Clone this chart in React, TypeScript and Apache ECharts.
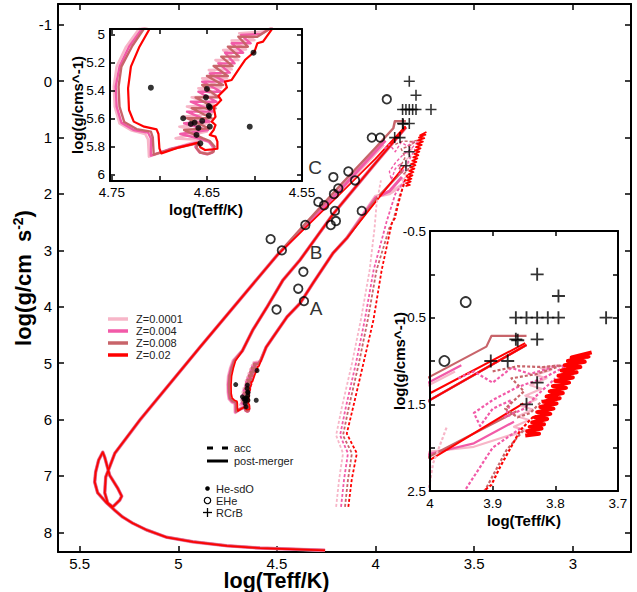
import React, { useEffect, useRef } from 'react';
import * as echarts from 'echarts';

const FONT = '"Liberation Sans", Arial, Helvetica, sans-serif';

// ---- labels / ticks ----
const zLabels = ['Z=0.0001', 'Z=0.004', 'Z=0.008', 'Z=0.02'];
const zColors = ['#f7b6c8', '#f25aa8', '#c8646a', '#ff0000'];
const mainXTicks = [5.5, 5, 4.5, 4, 3.5, 3];
const mainYTicks = [-1, 0, 1, 2, 3, 4, 5, 6, 7, 8];
const inset1XTicks = [4.55, 4.6, 4.65, 4.7, 4.75];
const inset1XLabels = [4.55, 4.65, 4.75];
const inset1YTicks = [5, 5.2, 5.4, 5.6, 5.8, 6];
const inset2XTicks = [3.7, 3.8, 3.9, 4];
const inset2YTicks = [-0.5, 0, 0.5, 1, 1.5, 2, 2.5];
const inset2YLabels = [-0.5, 0.5, 1.5, 2.5];

// ---- post-merger tracks (log Teff, log g) ----
// lower part of the hot loop (all Z overlap)
const loopLower = [[4.50,3.09],[4.891,4.72],[5.195,6.01],[5.322,6.60],[5.368,7.02],[5.373,7.30],[5.358,7.48],[5.332,7.55],[5.297,7.43],[5.287,7.36],[5.307,7.22],[5.348,6.99],[5.373,6.67],[5.383,6.58],[5.404,6.72],[5.419,6.93],[5.424,7.11],[5.409,7.30],[5.363,7.48],[5.322,7.61],[5.282,7.73],[5.231,7.84],[5.160,7.96],[5.058,8.09],[4.926,8.17],[4.754,8.24],[4.586,8.28],[4.256,8.32]];
const bigTop_0001 = [[3.96,1.12],[4.0,1.27],[4.18,1.95]];
const bigTop_004 = [[3.95,1.05],[4.0,1.24],[4.18,1.93]];
const bigTop_008 = [[3.846,0.711],[3.902,0.711],[3.910,0.834],[4.0,1.18],[4.18,1.85],[4.38,2.62]];
const bigTop_02 = [[3.848,0.795],[4.0,1.372],[4.18,2.0]];

// sdO tongue: right edge (A) and left edge
const aTop_0001 = [[3.862,1.83],[3.93,1.99],[4.0,2.045]];
const aTop_004 = [[3.866,1.70],[3.93,1.95],[4.0,2.07]];
const aTop_008 = [[3.862,1.58],[4.0,2.10]];
const aTop_02 = [[3.851,1.49],[4.0,2.14]];
const tongueRightUpper = [[4.145,2.78],[4.216,3.05],[4.317,3.58],[4.383,3.94],[4.449,4.18],[4.520,4.54],[4.555,4.72]];
const tongueLeftUpper = [[4.675,4.78],[4.622,4.41],[4.551,4.01],[4.470,3.53],[4.383,3.17],[4.216,2.36],[4.0,1.45],[3.846,0.815]];

// He-flash region near the sdO (detail of the upper-left inset)
const insetTrack_0001 = [[4.583,4.957],[4.591,4.981],[4.616,4.993],[4.600,5.041],[4.624,5.045],[4.609,5.107],[4.633,5.112],[4.617,5.183],[4.641,5.183],[4.624,5.249],[4.648,5.254],[4.629,5.314],[4.655,5.314],[4.635,5.378],[4.659,5.385],[4.638,5.439],[4.666,5.449],[4.641,5.503],[4.671,5.515],[4.645,5.568],[4.676,5.587],[4.648,5.634],[4.679,5.658],[4.650,5.693],[4.683,5.741],[4.655,5.753],[4.648,5.765],[4.644,5.800],[4.645,5.836],[4.650,5.848],[4.657,5.836],[4.662,5.800],[4.660,5.765],[4.666,5.772],[4.690,5.824],[4.711,5.871],[4.712,5.748],[4.715,5.710],[4.729,5.686],[4.742,5.634],[4.747,5.515],[4.748,5.373],[4.745,5.230],[4.735,5.088],[4.721,4.957]];
const insetTrack_004 = [[4.583,4.957],[4.593,4.998],[4.614,5.005],[4.604,5.064],[4.624,5.064],[4.612,5.131],[4.631,5.131],[4.621,5.207],[4.638,5.207],[4.626,5.273],[4.647,5.278],[4.631,5.337],[4.655,5.337],[4.635,5.409],[4.659,5.409],[4.640,5.480],[4.667,5.480],[4.643,5.551],[4.671,5.551],[4.647,5.622],[4.674,5.634],[4.649,5.682],[4.678,5.710],[4.655,5.748],[4.648,5.765],[4.643,5.805],[4.644,5.843],[4.650,5.855],[4.658,5.840],[4.662,5.805],[4.661,5.772],[4.690,5.819],[4.709,5.864],[4.709,5.741],[4.712,5.700],[4.727,5.682],[4.740,5.629],[4.745,5.515],[4.746,5.373],[4.742,5.230],[4.732,5.088],[4.718,4.957]];
const insetTrack_008 = [[4.583,4.957],[4.597,5.017],[4.617,5.017],[4.607,5.088],[4.628,5.088],[4.616,5.159],[4.635,5.159],[4.623,5.226],[4.643,5.226],[4.628,5.297],[4.650,5.297],[4.633,5.361],[4.655,5.361],[4.638,5.449],[4.662,5.449],[4.641,5.527],[4.666,5.527],[4.645,5.598],[4.671,5.598],[4.648,5.670],[4.674,5.682],[4.654,5.741],[4.647,5.760],[4.642,5.800],[4.643,5.836],[4.649,5.853],[4.657,5.843],[4.661,5.810],[4.660,5.777],[4.688,5.819],[4.706,5.857],[4.707,5.734],[4.709,5.693],[4.724,5.675],[4.737,5.625],[4.742,5.515],[4.743,5.373],[4.740,5.230],[4.729,5.088],[4.716,4.957]];
const insetTrack_02 = [[4.581,4.957],[4.591,5.052],[4.597,5.064],[4.600,5.124],[4.610,5.183],[4.617,5.254],[4.624,5.325],[4.631,5.337],[4.629,5.378],[4.638,5.439],[4.635,5.468],[4.640,5.503],[4.643,5.515],[4.641,5.587],[4.645,5.622],[4.641,5.646],[4.643,5.682],[4.647,5.717],[4.641,5.729],[4.639,5.765],[4.639,5.815],[4.644,5.819],[4.652,5.824],[4.657,5.805],[4.659,5.772],[4.679,5.805],[4.698,5.848],[4.700,5.812],[4.701,5.710],[4.703,5.677],[4.716,5.658],[4.727,5.622],[4.732,5.539],[4.733,5.385],[4.730,5.230],[4.721,5.088],[4.710,4.957]];

// giant-branch loops near the RCrB region
const wedge_02 = [[3.848,1.86],[3.826,1.84],[3.845,1.81],[3.822,1.78],[3.841,1.76],[3.818,1.73],[3.837,1.71],[3.813,1.67],[3.833,1.65],[3.808,1.61],[3.829,1.59],[3.803,1.55],[3.824,1.53],[3.798,1.49],[3.819,1.47],[3.793,1.43],[3.814,1.41],[3.788,1.37],[3.809,1.35],[3.783,1.31],[3.804,1.29],[3.778,1.25],[3.800,1.23],[3.772,1.19],[3.795,1.17],[3.766,1.13],[3.790,1.11],[3.760,1.07],[3.785,1.05],[3.753,1.01],[3.780,1.00],[3.747,0.95],[3.774,0.96],[3.742,0.90]];
const wedge_0001 = [[3.870,1.86],[3.846,1.80],[3.866,1.76],[3.842,1.68],[3.860,1.64],[3.836,1.56],[3.854,1.52],[3.830,1.44],[3.848,1.40],[3.822,1.32],[3.840,1.28],[3.814,1.20],[3.832,1.16],[3.806,1.10],[3.824,1.08],[3.796,1.05]];
const cloud_004 = [[3.955,1.20],[3.930,1.12],[3.900,1.25],[3.870,1.08],[3.840,1.15],[3.800,1.06],[3.780,1.05],[3.820,1.20],[3.860,1.30],[3.900,1.45],[3.930,1.60],[3.920,1.75],[3.900,1.55],[3.870,1.45],[3.880,1.65],[3.850,1.55],[3.830,1.40],[3.800,1.20]];
const cloud_008 = [[3.900,1.12],[3.860,1.06],[3.820,1.07],[3.790,1.05],[3.830,1.15],[3.870,1.20],[3.850,1.35],[3.880,1.55],[3.860,1.65],[3.840,1.60],[3.820,1.45]];

// accretion tracks (dashed)
const acc_0001 = [[4.200,7.55],[4.185,7.07],[4.165,6.60],[4.200,6.28],[4.170,5.77],[4.120,5.01],[4.075,4.24],[4.030,3.35],[4.005,2.60],[3.995,2.18],[3.973,1.757]];
const acc_004 = [[4.175,7.55],[4.160,7.07],[4.140,6.60],[4.180,6.28],[4.150,5.77],[4.100,5.01],[4.055,4.24],[4.010,3.35],[3.960,2.70],[3.944,2.49],[3.900,2.00],[3.856,1.78]];
const acc_008 = [[4.155,7.55],[4.140,7.07],[4.120,6.60],[4.165,6.28],[4.135,5.77],[4.085,5.01],[4.040,4.24],[3.995,3.35],[3.930,2.60],[3.912,2.49],[3.878,2.03],[3.851,1.80]];
const acc_02 = [[4.138,7.55],[4.121,7.07],[4.095,6.60],[4.146,6.25],[4.113,5.77],[4.062,5.01],[4.011,4.24],[3.969,3.35],[3.918,2.52],[3.902,2.43],[3.888,2.22],[3.856,1.80],[3.835,1.64]];

// ---- observed stars ----
const heSdO = [[4.709,5.380],[4.650,5.389],[4.651,5.449],[4.648,5.511],[4.647,5.522],[4.648,5.579],[4.675,5.598],[4.667,5.639],[4.663,5.629],[4.655,5.617],[4.659,5.667],[4.647,5.658],[4.661,5.717],[4.657,5.777],[4.605,5.658],[4.601,5.131]];
const eHe = [[3.943,0.32],[4.019,1.00],[3.977,1.00],[4.138,1.60],[4.214,1.70],[4.104,1.76],[4.189,1.90],[4.211,2.00],[4.290,2.14],[4.261,2.20],[4.070,2.30],[4.206,2.30],[4.201,2.48],[4.227,2.55],[4.356,2.55],[4.532,2.80],[4.475,3.00],[4.366,3.38],[4.392,3.68],[4.363,3.90],[4.502,4.05]];
const rCrB = [[3.829,0.0],[3.795,0.25],[3.863,0.5],[3.846,0.5],[3.829,0.5],[3.812,0.5],[3.795,0.5],[3.719,0.5],[3.863,0.75],[3.860,0.76],[3.829,0.75],[3.903,1.0],[3.876,1.0],[3.829,1.25],[3.846,1.5]];

const zTracks = [
  { bigTop: bigTop_0001, aTop: aTop_0001, inset: insetTrack_0001, acc: acc_0001 },
  { bigTop: bigTop_004, aTop: aTop_004, inset: insetTrack_004, acc: acc_004 },
  { bigTop: bigTop_008, aTop: aTop_008, inset: insetTrack_008, acc: acc_008 },
  { bigTop: bigTop_02, aTop: aTop_02, inset: insetTrack_02, acc: acc_02 },
];

const CROSS = 'path://M-1,-7H1V-1H7V1H1V7H-1V1H-7V-1H-1Z';

function axis(o: any) {
  return {
    type: 'value',
    gridIndex: o.grid,
    position: o.position,
    min: o.min,
    max: o.max,
    inverse: true,
    z: o.z ?? 0,
    axisLine: { show: true, onZero: false, lineStyle: { color: '#000', width: 2 } },
    axisTick: { show: true, inside: true, length: o.tickLen ?? 6, customValues: o.ticks, lineStyle: { color: '#000', width: 1.5 } },
    axisLabel: o.labels
      ? { show: true, customValues: o.labels, color: '#000', fontSize: o.fontSize, fontFamily: FONT, margin: o.margin, lineHeight: o.labelLH }
      : { show: false },
    splitLine: { show: false },
    name: o.name,
    nameLocation: 'middle',
    nameGap: o.nameGap,
    nameMoveOverlap: false,
    nameTextStyle: o.nameStyle,
  };
}

function buildOption() {
  const series: any[] = [];
  const gridsCfg = [
    { xi: 0, yi: 0, z: 1, widths: [3.6, 3.0, 2.5, 1.7], accW: 1.8, extraW: 1.4, wedgeW: 1.8 },
    { xi: 2, yi: 2, z: 4, widths: [2.6, 2.4, 2.4, 2.2], accW: 2, extraW: 2, wedgeW: 2 },
    { xi: 4, yi: 4, z: 4, widths: [2.2, 2.2, 2.2, 2], accW: 2.2, extraW: 2.2, wedgeW: 4 },
  ];
  const ln = (data: any, color: string, width: number, g: any, dashed = false) => ({
    type: 'line', data, xAxisIndex: g.xi, yAxisIndex: g.yi, z: g.z,
    showSymbol: false, symbol: 'none', silent: true, clip: true,
    lineStyle: { color, width, type: dashed ? [3, 2] : 'solid', cap: 'butt', join: 'round' },
    emphasis: { disabled: true },
  });
  gridsCfg.forEach((g) => {
    zTracks.forEach((t, i) => {
      series.push(ln([...t.bigTop, ...loopLower], zColors[i], g.widths[i], g));
      series.push(ln([...t.aTop, ...tongueRightUpper, ...t.inset, ...tongueLeftUpper], zColors[i], g.widths[i], g));
    });
    series.push(ln(wedge_0001, zColors[0], g.extraW, g));
    series.push(ln(cloud_004, zColors[1], g.extraW, g, true));
    series.push(ln(cloud_008, zColors[2], g.extraW, g, true));
    series.push(ln(wedge_02, zColors[3], g.wedgeW, g));
    zTracks.forEach((t, i) => series.push(ln(t.acc, zColors[i], g.accW, g, true)));
  });
  const sc = (data: any, g: any, symbol: string, size: number, style: any) => ({
    type: 'scatter', data, xAxisIndex: g.xi, yAxisIndex: g.yi, z: g.z + 0.5, symbol, symbolSize: size,
    itemStyle: style, silent: true, clip: true, emphasis: { disabled: true },
  });
  const dot = { color: '#000' };
  const ring = { color: 'rgba(0,0,0,0)', borderColor: '#000', borderWidth: 1.8 };
  series.push(sc(heSdO, gridsCfg[0], 'circle', 5, dot));
  series.push(sc(eHe, gridsCfg[0], 'circle', 8.5, ring));
  series.push(sc(rCrB, gridsCfg[0], CROSS, 11, dot));
  series.push(sc(heSdO, gridsCfg[1], 'circle', 6, dot));
  series.push(sc(eHe, gridsCfg[2], 'circle', 10, ring));
  series.push(sc(rCrB, gridsCfg[2], CROSS, 13, dot));

  const mainName = { fontSize: 22, fontWeight: 'bold', color: '#000', fontFamily: FONT };
  const insetName = { fontSize: 15, fontWeight: 'bold', color: '#000', fontFamily: FONT };

  const xAxis = [
    axis({ grid: 0, position: 'bottom', min: 2.705, max: 5.61, ticks: mainXTicks, labels: mainXTicks, fontSize: 15, margin: 4, labelLH: 15, name: 'log(Teff/K)', nameGap: 19, nameStyle: { ...mainName, fontSize: 21.5, lineHeight: 20, padding: [0, 136, 0, 0] } }),
    axis({ grid: 0, position: 'top', min: 2.705, max: 5.61, ticks: mainXTicks }),
    axis({ grid: 1, position: 'bottom', min: 4.55, max: 4.752, ticks: inset1XTicks, labels: inset1XLabels, fontSize: 13.5, margin: 4, z: 6, tickLen: 5, name: 'log(Teff/K)', nameGap: 21, nameStyle: insetName }),
    axis({ grid: 1, position: 'top', min: 4.55, max: 4.752, ticks: inset1XTicks, z: 6, tickLen: 5 }),
    axis({ grid: 2, position: 'bottom', min: 3.7, max: 4.0, ticks: inset2XTicks, labels: inset2XTicks, fontSize: 13.5, margin: 5, z: 6, tickLen: 5, name: 'log(Teff/K)', nameGap: 22, nameStyle: insetName }),
    axis({ grid: 2, position: 'top', min: 3.7, max: 4.0, ticks: inset2XTicks, z: 6, tickLen: 5 }),
  ];
  const yAxis = [
    axis({ grid: 0, position: 'left', min: -1.37, max: 8.35, ticks: mainYTicks, labels: mainYTicks, fontSize: 15, margin: 6,
      name: '{a|log(g/cm  s}{b|-2}{a|)}', nameGap: 23,
      nameStyle: { rich: { a: { ...mainName }, b: { fontSize: 14, fontWeight: 'bold', color: '#000', fontFamily: FONT, verticalAlign: 'top', padding: [0, 0, 10, 0] } } } }),
    axis({ grid: 0, position: 'right', min: -1.37, max: 8.35, ticks: mainYTicks }),
    axis({ grid: 1, position: 'left', min: 4.962, max: 6.045, ticks: inset1YTicks, labels: inset1YTicks, fontSize: 13.5, margin: 5, z: 6, tickLen: 5, name: 'log(g/cms^-1)', nameGap: 25, nameStyle: insetName }),
    axis({ grid: 1, position: 'right', min: 4.962, max: 6.045, ticks: inset1YTicks, z: 6, tickLen: 5 }),
    axis({ grid: 2, position: 'left', min: -0.5, max: 2.5, ticks: inset2YTicks, labels: inset2YLabels, fontSize: 13.5, margin: 4, z: 6, tickLen: 5, name: 'log(g/cms^-1)', nameGap: 23, nameStyle: insetName }),
    axis({ grid: 2, position: 'right', min: -0.5, max: 2.5, ticks: inset2YTicks, z: 6, tickLen: 5 }),
  ];

  const txt = (x: number, y: number, text: string, size: number, align = 'left', fill = '#222') => ({
    type: 'text', x, y, z: 20, silent: true,
    style: { text, fontSize: size, fontFamily: FONT, fill, align, verticalAlign: 'middle' },
  });
  const graphic: any[] = [];
  zLabels.forEach((t, i) => {
    const y = 319 + i * 12;
    graphic.push({ type: 'line', z: 20, silent: true, shape: { x1: 108, y1: y, x2: 128, y2: y }, style: { stroke: zColors[i], lineWidth: 3.5 } });
    graphic.push(txt(136, y, t, 11));
  });
  graphic.push({ type: 'line', z: 20, silent: true, shape: { x1: 207, y1: 448, x2: 228, y2: 448 }, style: { stroke: '#000', lineWidth: 3, lineDash: [6, 9] } });
  graphic.push(txt(234, 448, 'acc', 11));
  graphic.push({ type: 'line', z: 20, silent: true, shape: { x1: 207, y1: 461, x2: 228, y2: 461 }, style: { stroke: '#000', lineWidth: 3 } });
  graphic.push(txt(234, 461, 'post-merger', 11));
  graphic.push({ type: 'circle', z: 20, silent: true, shape: { cx: 207.5, cy: 488.5, r: 2.3 }, style: { fill: '#000' } });
  graphic.push(txt(216, 488.5, 'He-sdO', 11));
  graphic.push({ type: 'circle', z: 20, silent: true, shape: { cx: 207.5, cy: 500.5, r: 3.2 }, style: { fill: 'none', stroke: '#000', lineWidth: 1.2 } });
  graphic.push(txt(216, 500.5, 'EHe', 11));
  graphic.push({ type: 'line', z: 20, silent: true, shape: { x1: 203, y1: 512.5, x2: 212, y2: 512.5 }, style: { stroke: '#000', lineWidth: 1.3 } });
  graphic.push({ type: 'line', z: 20, silent: true, shape: { x1: 207.5, y1: 508, x2: 207.5, y2: 517 }, style: { stroke: '#000', lineWidth: 1.3 } });
  graphic.push(txt(216, 512.5, 'RCrB', 11));
  graphic.push(txt(315, 167, 'C', 19, 'center', '#333'));
  graphic.push(txt(316, 252, 'B', 19, 'center', '#333'));
  graphic.push(txt(316, 308, 'A', 19, 'center', '#333'));

  return {
    animation: false,
    backgroundColor: '#fff',
    grid: [
      { left: 58, top: 4, width: 573, height: 548, show: false, outerBoundsMode: 'none', containLabel: false },
      { left: 110, top: 29, width: 192, height: 152, show: true, backgroundColor: '#fff', borderWidth: 0, z: 3, outerBoundsMode: 'none', containLabel: false },
      { left: 430, top: 231, width: 188, height: 260, show: true, backgroundColor: '#fff', borderWidth: 0, z: 3, outerBoundsMode: 'none', containLabel: false },
    ],
    xAxis,
    yAxis,
    series,
    graphic,
  };
}

export default function App() {
  const ref = useRef<HTMLDivElement>(null);
  useEffect(() => {
    const chart = echarts.init(ref.current as HTMLDivElement, null, { renderer: 'svg' });
    chart.setOption(buildOption() as any);
    return () => chart.dispose();
  }, []);
  return <div ref={ref} style={{ position: 'fixed', left: 0, top: 0, width: 637, height: 592, background: '#fff' }} />;
}
